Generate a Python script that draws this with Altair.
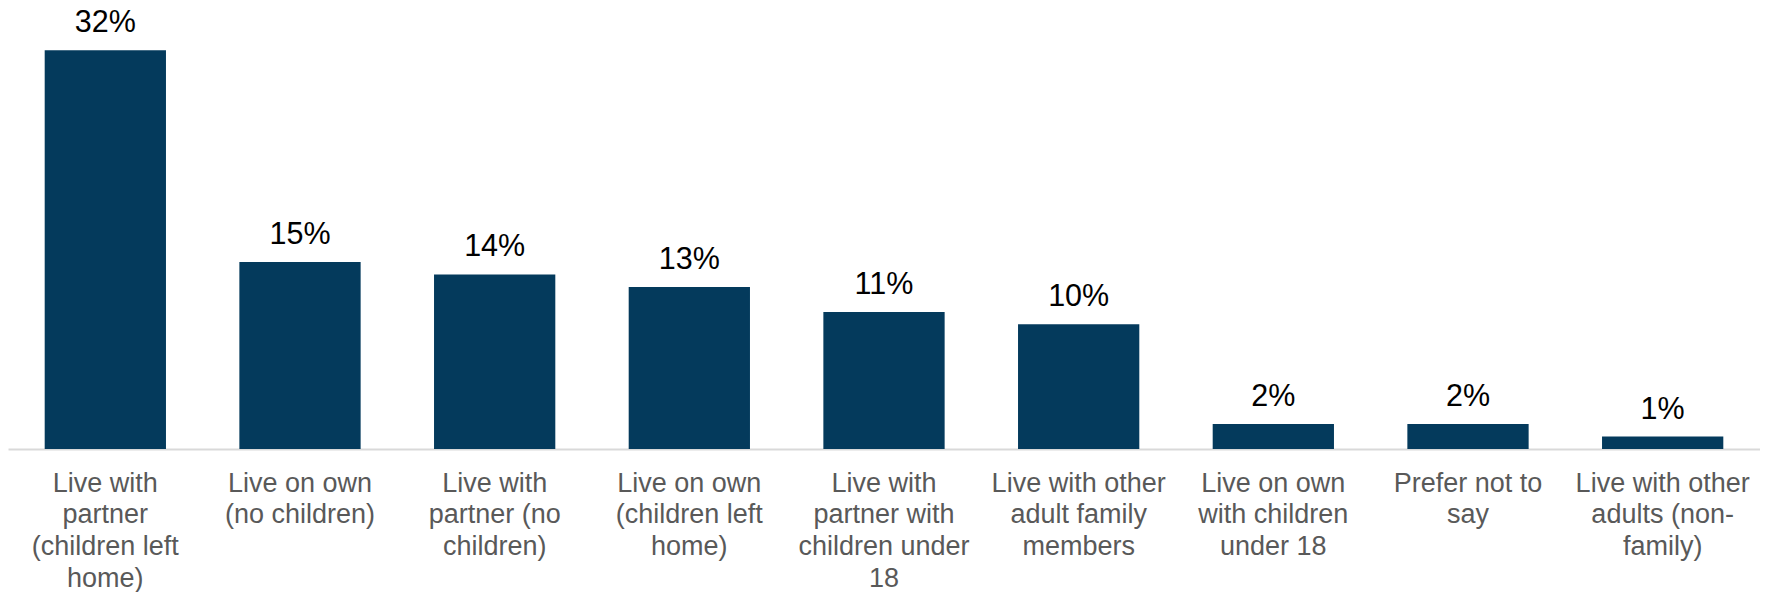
import altair as alt
import pandas as pd

categories = [
    "Live with|partner|(children left|home)",
    "Live on own|(no children)",
    "Live with|partner (no|children)",
    "Live on own|(children left|home)",
    "Live with|partner with|children under|18",
    "Live with other|adult family|members",
    "Live on own|with children|under 18",
    "Prefer not to|say",
    "Live with other|adults (non-|family)",
]
values = [32, 15, 14, 13, 11, 10, 2, 2, 1]
value_labels = ["32%", "15%", "14%", "13%", "11%", "10%", "2%", "2%", "1%"]

df = pd.DataFrame({"cat": categories, "value": values, "label": value_labels})

x = alt.X(
    "cat:N",
    sort=categories,
    title=None,
    scale=alt.Scale(paddingInner=0.377, paddingOuter=0.1885),
    axis=alt.Axis(
        labelAngle=0,
        labelExpr="split(datum.label, '|')",
        labelFont="Liberation Sans",
        labelFontSize=27,
        labelLineHeight=31.7,
        labelColor="#595959",
        labelPadding=21,
        labelLimit=400,
        ticks=False,
        domainColor="#d9d9d9",
        domainWidth=2,
    ),
)
y = alt.Y("value:Q", scale=alt.Scale(domain=[0, 35.3], nice=False), axis=None)

bars = alt.Chart(df).mark_bar(color="#043a5c").encode(x=x, y=y)
text = alt.Chart(df).mark_text(
    baseline="alphabetic", dy=-18, font="Liberation Sans", fontSize=30.5, color="#000000"
).encode(x=alt.X("cat:N", sort=categories), y="value:Q", text="label:N")

chart = (
    alt.layer(bars, text)
    .properties(width=1752, height=440, padding=0)
    .configure_view(stroke=None)
)
chart.save("out.html", embed_options={"renderer": "svg", "actions": False})
